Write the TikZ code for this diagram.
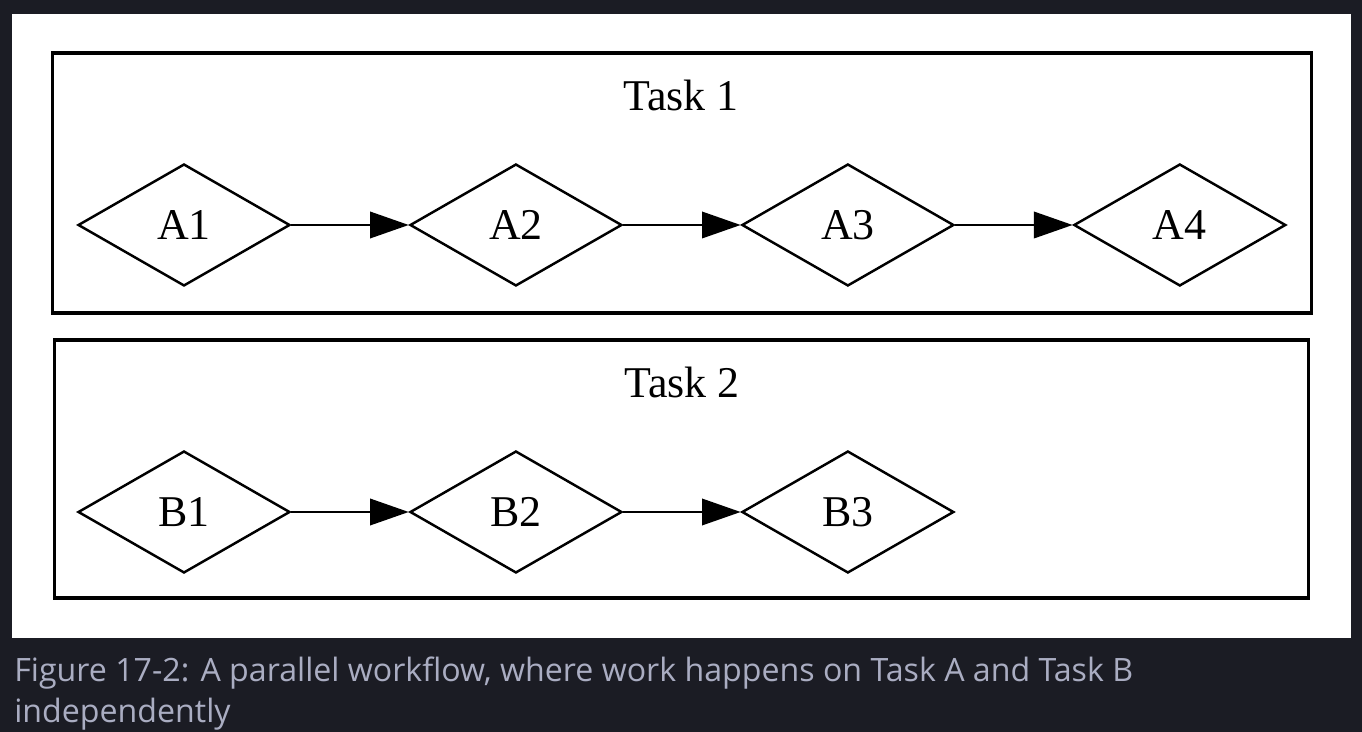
\documentclass[tikz,border=0pt]{standalone}
\usepackage{fontspec}
\setmainfont{Liberation Serif}
\newfontfamily\captionfont{Open Sans}
\usepackage{xcolor}
\usepackage{tikz}
\usetikzlibrary{shapes.geometric, arrows.meta, positioning}
\definecolor{pagebg}{RGB}{27,28,36}
\definecolor{captiongrey}{RGB}{170,173,194}
\tikzset{
    cluster/.style={rectangle, draw, line width=1.8pt, minimum width=25.2cm, minimum height=5.2cm},
    task/.style={diamond, draw, line width=1.4pt, minimum width=4.24cm, minimum height=2.44cm, inner sep=0pt, text centered, font=\fontsize{25}{28}\selectfont},
    flow/.style={-{Triangle[length=22pt, width=15pt]}, line width=1.4pt}
}
\begin{document}
\begin{tikzpicture}[
    x=0.02cm, y=-0.02cm,
    node distance=6.64cm,
    clusterlabel/.style={anchor=base, font=\fontsize{25}{28}\selectfont},
    caption/.style={anchor=base west, align=left, inner sep=0pt, text=captiongrey, font=\captionfont\fontsize{18.3}{22.8}\selectfont}
]
    % Page and panel
    \fill[pagebg] (0,0) rectangle (1362,732);
    \fill[white] (12,14) rectangle (1351,638);
    \useasboundingbox (0,0) rectangle (1362,732);

    % Clusters
    \node[cluster] (task1) at (682,183) {};
    \node[cluster, minimum width=25.1cm, minimum height=5.16cm] (task2) at (681.5,469) {};
    \node[clusterlabel] (task1label) at (681,111) {Task 1};
    \node[clusterlabel] (task2label) at (682,398) {Task 2};

    % Task A
    \node[task] (a1) at (184,225) {A1};
    \node[task, right of=a1] (a2) {A2};
    \node[task, right of=a2] (a3) {A3};
    \node[task, right of=a3] (a4) {A4};

    % Task B
    \node[task] (b1) at (184,512) {B1};
    \node[task, right of=b1] (b2) {B2};
    \node[task, right of=b2] (b3) {B3};

    % Connections
    \draw[flow] (a1) -- (a2);
    \draw[flow] (a2) -- (a3);
    \draw[flow] (a3) -- (a4);
    \draw[flow] (b1) -- (b2);
    \draw[flow] (b2) -- (b3);

    % Caption (base anchor sits on the last line)
    \node[caption] (caption) at (14,722) {Figure 17-2: A parallel workflow, where work happens on Task A and Task B\\independently};
\end{tikzpicture}
\end{document}
